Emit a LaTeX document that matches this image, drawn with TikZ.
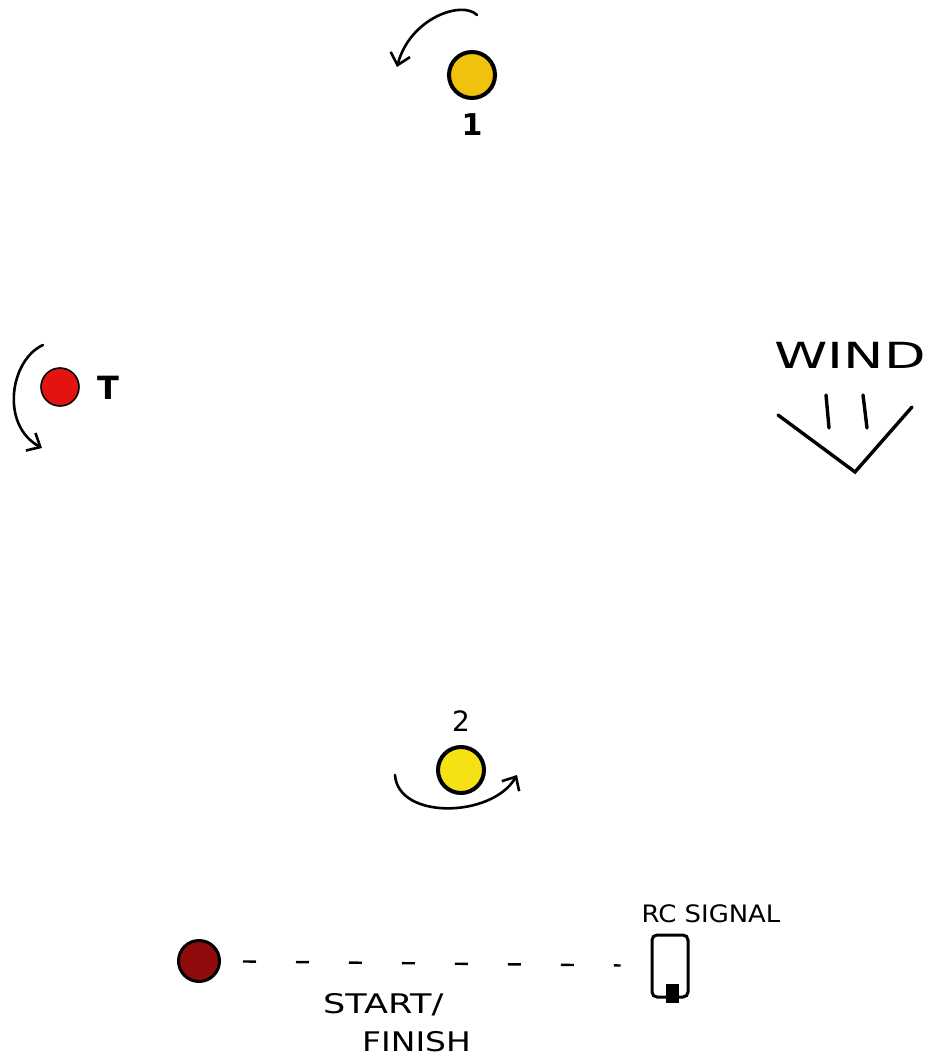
\documentclass[tikz,border=0pt]{standalone}
\usepackage{fontspec}
\setmainfont{DejaVu Sans}
\usetikzlibrary{arrows.meta}
\definecolor{markgold}{HTML}{F0C20E}
\definecolor{markyellow}{HTML}{F4E214}
\definecolor{markred}{HTML}{E3130F}
\definecolor{markdark}{HTML}{8E0B0B}
\newcommand{\wide}[2]{\scalebox{#1}[1]{#2}}

\begin{document}
\begin{tikzpicture}[x=1pt,y=-1pt,
    ball/.style={circle, draw=black, line width=4pt, inner sep=0pt},
    turn/.style={line width=2.6pt, line cap=round, -{Straight Barb[length=11pt,width=20pt]}},
    ink/.style={line width=3.4pt, line cap=round},
    handtext/.style={inner sep=0pt, font=\fontsize{27}{29}\selectfont}]
    \useasboundingbox (0,0) rectangle (936,1059);

    % marks of the course
    \node[ball, fill=markgold, minimum size=46pt] (mark1) at (472,75) {};
    \node[ball, fill=markred, minimum size=38pt, line width=1.6pt] (markT) at (60,387) {};
    \node[ball, fill=markyellow, minimum size=46pt] (mark2) at (461,770) {};
    \node[ball, fill=markdark, minimum size=41pt, line width=3pt] (start) at (199,961) {};

    \node[handtext, font=\fontsize{30}{32}\selectfont] (lbl1) at (472,125) {\textbf{1}};
    \node[handtext, font=\fontsize{32}{34}\selectfont] (lblT) at (108,388) {\textbf{T}};
    \node[handtext, font=\fontsize{28}{30}\selectfont] (lbl2) at (461,721) {2};

    % rounding directions
    \draw[turn] (477,15) .. controls (462,0) and (410,18) .. (397,67);
    \draw[turn] (43,345) .. controls (10,360) and (0,425) .. (42,448);
    \draw[turn] (395,775) .. controls (398,820) and (492,818) .. (517,775);

    % wind
    \node[handtext, font=\fontsize{36}{38}\selectfont] (wind) at (850,355) {\wide{1.5}{WIND}};
    \draw[ink] (826,395) -- (829,428);
    \draw[ink] (863,395) -- (867,428);
    \draw[ink] (778,415) -- (855,472) -- (912,407);

    % start / finish line
    \node[draw, line width=3pt, rounded corners=5pt, minimum width=36pt, minimum height=62pt,
        inner sep=0pt] (rc) at (670,966) {};
    \fill (666,984) rectangle (679,1003);
    \node[handtext, font=\fontsize{24}{26}\selectfont] (rclbl) at (711,914) {\wide{1.08}{RC SIGNAL}};
    \draw[line width=2.4pt, dash pattern=on 13pt off 40pt, shorten <=22pt, shorten >=30pt] (start) -- (rc);

    \node[handtext, anchor=west] (startlbl) at (323,1005) {\wide{1.3}{START/}};
    \node[handtext, anchor=west] (finishlbl) at (362,1042) {\wide{1.22}{FINISH}};
\end{tikzpicture}
\end{document}
